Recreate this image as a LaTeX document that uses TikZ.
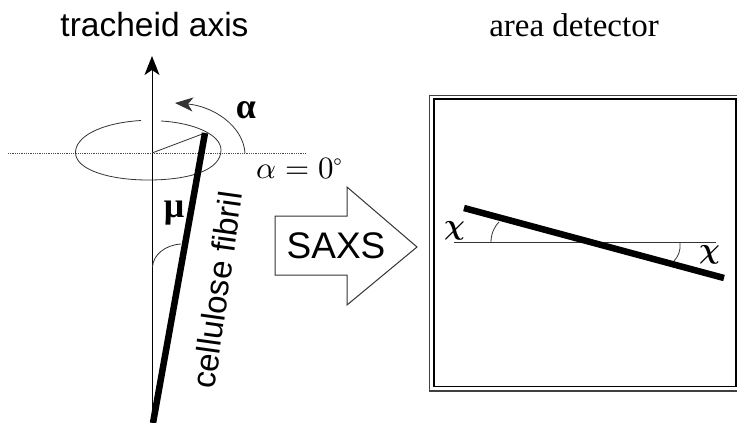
\documentclass[tikz,border=0pt]{standalone}
\usepackage{fontspec}
\setmainfont{Liberation Serif}
\setsansfont{Liberation Sans}
\usepackage{unicode-math}
\usetikzlibrary{arrows.meta}
\tikzset{
  thin line/.style={draw=black!80,line width=0.8pt},
  fibril/.style={draw=black,line width=6.5pt},
  detector fibril/.style={draw=black,line width=6.5pt},
  greek/.style={inner sep=0pt,font=\bfseries\fontsize{36}{36}\selectfont},
  greekchi/.style={inner sep=0pt,font=\fontsize{29}{29}\selectfont},
  head/.style={-{Stealth[length=19pt,width=15pt,inset=5pt]}},
}
\begin{document}
\begin{tikzpicture}[x=1pt,y=-1pt]
\useasboundingbox (0,0) rectangle (737,423);
\coordinate (axisb) at (152,423);
\coordinate (axist) at (152,56);
\coordinate (dl) at (8,153);
\coordinate (dr) at (306,153);
\coordinate (fibt) at (205,133);
\coordinate (fibb) at (153,423);
\coordinate (centre) at (152,153);
\node[font=\sffamily\fontsize{33.5}{34}\selectfont] (title1) at (154.5,25) {tracheid axis};
\node[font=\fontsize{33}{33}\selectfont] (title2) at (574,25) {area detector};
\draw[draw=black!70,line width=0.8pt,densely dotted] (dl) -- (dr);
\draw[thin line] (141,120.5) .. controls (100,123) and (75,137) .. (75.5,153)
  .. controls (76,170) and (110,180) .. (148,180)
  .. controls (190,180) and (221,170) .. (221,150)
  .. controls (221,135) and (195,123) .. (161,121);
\draw[head,draw=black,line width=1pt] (axisb) -- (axist);
\draw[thin line] (centre) -- (fibt);
\draw[fibril] (fibb) -- (fibt);
\draw[thin line,-{Stealth[length=18pt,width=14pt,inset=5pt]}] (245,153) .. controls (243,125) and (212,106) .. (175,103);
\draw[thin line] (152.5,267) .. controls (153,255) and (165,245) .. (181,244);
\node[greek] (alpha) at (246,110) {α};
\node[inner sep=0pt,font=\fontsize{31}{31}\selectfont] (alpha0) at (300,169) {$\alpha=0^{\circ}$};
\node[greek] (mu) at (174,213) {μ};
\node[font=\sffamily\fontsize{33}{33}\selectfont,rotate=82] (cf) at (217,290) {cellulose fibril};
\draw[thin line,line width=1pt] (275,216) -- (347,216) -- (347,187) -- (417,247) -- (347,305) -- (347,275) -- (275,275) -- cycle;
\node[font=\sffamily\fontsize{37}{37}\selectfont] (saxs) at (336,246) {SAXS};
\draw[draw=black!75,line width=1.3pt] (429.5,95.5) rectangle (745,391);
\draw[draw=black,line width=1.5pt] (434,99) rectangle (736,386.5);
\draw[thin line] (454,242) -- (716,242);
\draw[detector fibril] (464,208) -- (724,278);
\draw[thin line] (491,242) .. controls (491,233) and (495,226) .. (499,222);
\draw[thin line] (680,243) .. controls (681,250) and (678,257) .. (674,261);
\node[greekchi] (chi1) at (455,231) {$\symbf{\chi}$};
\node[greekchi] (chi2) at (710,255) {$\symbf{\chi}$};
\end{tikzpicture}
\end{document}
